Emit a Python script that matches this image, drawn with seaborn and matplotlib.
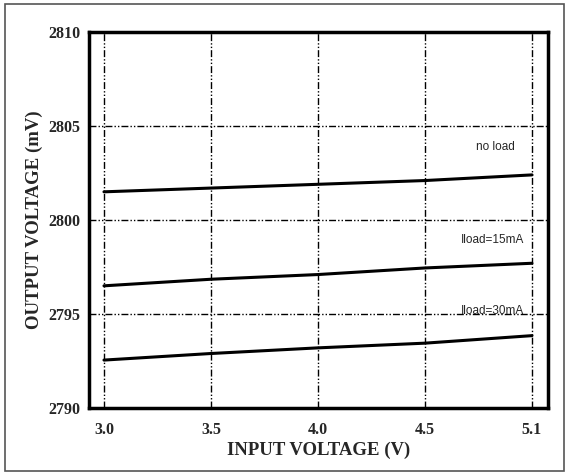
import numpy as np
import pandas as pd
import seaborn as sns
import matplotlib.pyplot as plt
from matplotlib.patches import Rectangle

# values
vin_labels = ['3.0', '3.5', '4.0', '4.5', '5.1']
no_load = [2801.5, 2801.7, 2801.9, 2802.1, 2802.4]
load_15ma = [2796.5, 2796.85, 2797.1, 2797.45, 2797.7]
load_30ma = [2792.55, 2792.9, 2793.2, 2793.45, 2793.85]
y_ticks = [2790, 2795, 2800, 2805, 2810]
series_names = ['no load', 'Iload=15mA', 'Iload=30mA']

pos = np.arange(len(vin_labels))
df = pd.DataFrame({
    'pos': np.tile(pos, 3),
    'vout': no_load + load_15ma + load_30ma,
    'series': np.repeat(series_names, len(vin_labels)),
})

sns.set_style('white')
serif = ['Liberation Serif', 'DejaVu Serif']
sans = ['Liberation Sans', 'DejaVu Sans']

fig = plt.figure(figsize=(5.69, 4.75), dpi=100)
ax = fig.add_axes([0.1564, 0.141, 0.8067, 0.7916])

sns.lineplot(data=df, x='pos', y='vout', hue='series',
             palette=['black'] * 3, linewidth=2.2, legend=False, ax=ax)

ax.set_xlim(-0.14, 4.15)
ax.set_ylim(2790, 2810)
ax.set_xticks(pos)
ax.set_xticklabels(vin_labels)
ax.set_yticks(y_ticks)

grid_ls = (0, (5, 1.5, 1, 1.5, 1, 1.5))
ax.grid(True, color='black', linestyle=grid_ls, linewidth=1.0)

for s in ax.spines.values():
    s.set_visible(True)
    s.set_linewidth(2.5)
    s.set_color('black')

ax.tick_params(axis='y', direction='in', length=5, width=1,
               color='#777777', pad=6)
ax.tick_params(axis='x', direction='in', length=5, width=1,
               color='#777777', pad=10)
for lab in ax.get_xticklabels() + ax.get_yticklabels():
    lab.set_family(serif)
    lab.set_fontweight('bold')
    lab.set_fontsize(11.5)

ax.set_xlabel('INPUT VOLTAGE (V)', family=serif, fontweight='bold',
              fontsize=13.5, labelpad=3)
ax.set_ylabel('OUTPUT VOLTAGE (mV)', family=serif, fontweight='bold',
              fontsize=13.5, labelpad=4)

# curve labels
ax.text(3.66, 2803.86, 'no load', family=sans, fontsize=8.5,
        ha='center', va='center')
ax.text(3.63, 2798.96, 'Iload=15mA', family=sans, fontsize=8.5,
        ha='center', va='center')
ax.text(3.63, 2795.15, 'Iload=30mA', family=sans, fontsize=8.5,
        ha='center', va='center')

# outer frame around the whole picture
fig.patches.append(Rectangle((5 / 569, 4 / 475), 559 / 569, 467 / 475,
                             transform=fig.transFigure, fill=False,
                             edgecolor='#555555', linewidth=1.2))

fig.savefig('out.png', dpi=100)
